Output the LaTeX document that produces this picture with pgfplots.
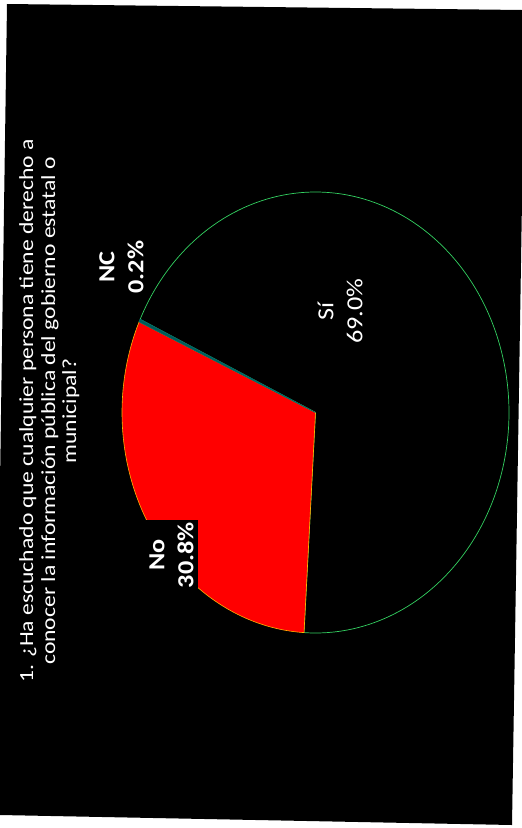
\documentclass[border=0pt]{standalone}
\usepackage{pgfplots}
\pgfplotsset{compat=1.18}
\usepackage{pgfplotstable}
\usepackage{fontspec}
\setmainfont{Carlito}

\pgfplotstableread{
label value
Si 69.0
No 30.8
NC 0.2
}\piedata

\begin{document}
\begin{tikzpicture}
\pgfplotstablegetelem{0}{value}\of\piedata \let\vSi\pgfplotsretval
\pgfplotstablegetelem{1}{value}\of\piedata \let\vNo\pgfplotsretval
\pgfplotstablegetelem{2}{value}\of\piedata \let\vNC\pgfplotsretval
\pgfmathsetmacro\aStart{266.6}
\pgfmathsetmacro\aNo{\aStart-3.6*\vNo}
\pgfmathsetmacro\aNC{\aNo-3.6*\vNC}
\pgfmathsetmacro\aSi{\aNC-3.6*\vSi}
\begin{axis}[width=522pt,height=828pt,scale only axis,
  xmin=0,xmax=522,ymin=0,ymax=828,y dir=reverse,hide axis,clip=true]
\addplot[fill=white,draw=none] coordinates {(0,0)(522,0)(522,828)(0,828)} -- cycle;
\addplot[fill=black,draw=none] coordinates {(7,4)(522,10)(522,200)(512,825)(0,815)(0,483)} -- cycle;
% Si
\addplot[fill=black,draw=green!55!teal!80!white,line width=0.7pt,domain=\aSi:\aNC,samples=240,variable=\t]
  ({315.5+193.5*cos(\t)},{412.5-220.5*sin(\t)}) -- (axis cs:315.5,412.5) -- cycle;
% No
\addplot[fill=red,draw=orange!60!yellow,line width=0.6pt,domain=\aNo:\aStart,samples=120,variable=\t]
  ({315.5+193.5*cos(\t)},{412.5-220.5*sin(\t)}) -- (axis cs:315.5,412.5) -- cycle;
% NC
\addplot[fill=teal!70!black,draw=teal!80!black,line width=0.8pt,domain=\aNC:\aNo,samples=5,variable=\t]
  ({315.5+193.5*cos(\t)},{412.5-220.5*sin(\t)}) -- (axis cs:315.5,412.5) -- cycle;

% title
\node[text=white,font=\fontsize{20}{23}\selectfont,rotate=90,xscale=1.18,anchor=base,inner sep=0]
  at (axis cs:33,411) {1. ¿Ha escuchado que cualquier persona tiene derecho a};
\node[text=white,font=\fontsize{20}{23}\selectfont,rotate=90,xscale=1.18,anchor=base,inner sep=0]
  at (axis cs:55,411) {conocer la información pública del gobierno estatal o};
\node[text=white,font=\fontsize{20}{23}\selectfont,rotate=90,xscale=1.18,anchor=base,inner sep=0]
  at (axis cs:76,411) {municipal?};

% labels
\node[text=white,font=\bfseries\fontsize{23}{29}\selectfont,align=center,rotate=90,xscale=1.14,inner sep=0]
  at (axis cs:121.5,267) {NC\\0.2\%};
\node[fill=black,text=white,font=\bfseries\fontsize{23}{29}\selectfont,align=center,rotate=90,xscale=1.14,
  inner sep=0,minimum width=61pt,minimum height=53pt]
  at (axis cs:171.5,555) {No\\30.8\%};
\node[text=white,font=\fontsize{23}{29}\selectfont,align=center,rotate=90,xscale=1.14,inner sep=0]
  at (axis cs:340,311) {Sí\\69.0\%};
\end{axis}
\end{tikzpicture}
\end{document}
